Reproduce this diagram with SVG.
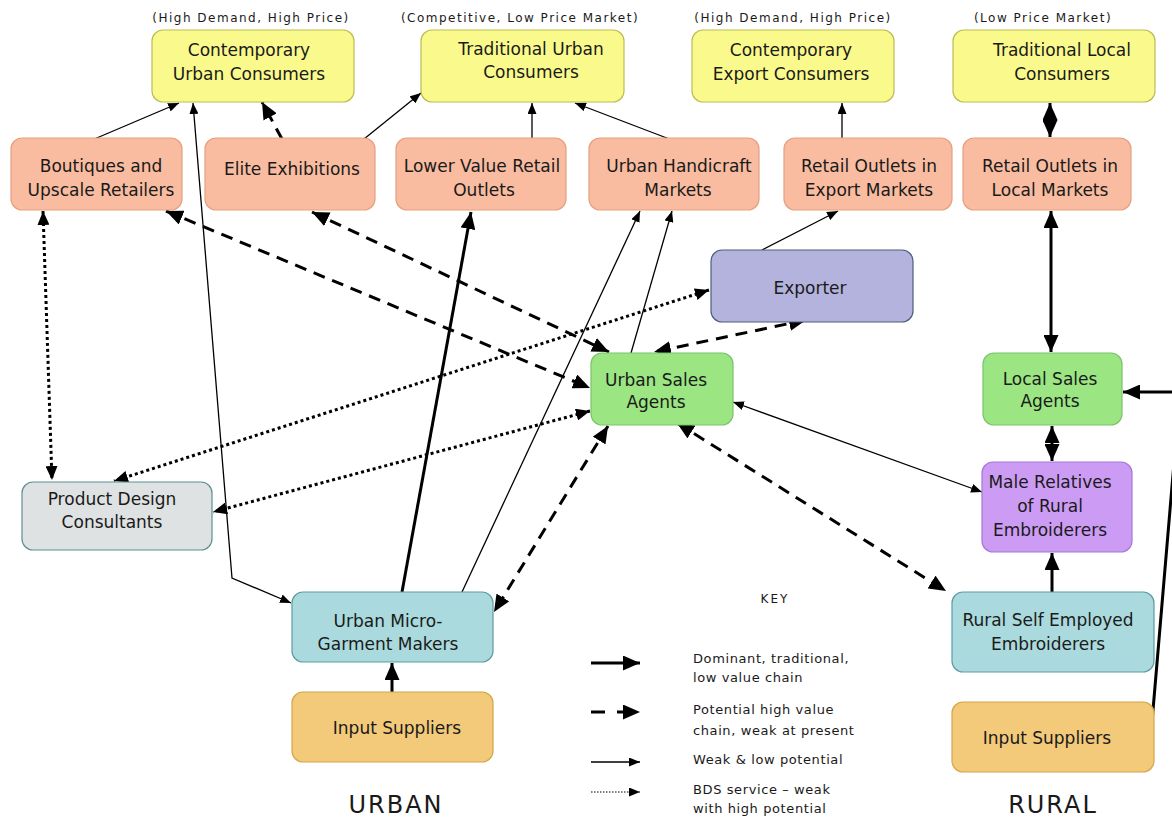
<svg xmlns="http://www.w3.org/2000/svg" width="1172" height="819" viewBox="0 0 1172 819">
<style>
.n rect{stroke-width:1.2}
.n text,.t{font-family:"DejaVu Sans",Verdana,sans-serif;font-size:17px;fill:#1a1a1a;text-anchor:middle}
.cons rect{fill:#fafa8c;stroke:#bcbc55}
.ret rect{fill:#f9bca0;stroke:#e5a080}
.exp rect{fill:#b3b3dd;stroke:#4e5e7a}
.grn rect{fill:#9be682;stroke:#79c46c}
.pur rect{fill:#cc9cf5;stroke:#a478d4}
.gry rect{fill:#dfe2e2;stroke:#5f8f92}
.blu rect{fill:#aadadd;stroke:#5c9ca2}
.org rect{fill:#f3c97a;stroke:#d4a648}
.hd{font-family:"DejaVu Sans",Verdana,sans-serif;font-size:12px;letter-spacing:1.5px;fill:#1a1a1a;text-anchor:middle}
.ky{font-family:"DejaVu Sans",Verdana,sans-serif;font-size:13px;letter-spacing:0.6px;fill:#1a1a1a}
.big{font-family:"DejaVu Sans",Verdana,sans-serif;font-size:24px;letter-spacing:2px;fill:#1a1a1a;text-anchor:middle}
.c path{fill:none;stroke:#000}
.thk{stroke-width:3}
.thn{stroke-width:1.3}
.dsh{stroke-width:3;stroke-dasharray:12 8}
.dot{stroke-width:3;stroke-dasharray:3 3}
</style>
<defs>
<marker id="aS" markerUnits="userSpaceOnUse" markerWidth="11" markerHeight="9" refX="11" refY="4.5" orient="auto-start-reverse" viewBox="0 0 11 9"><path d="M0,0 L11,4.5 L0,9 z" fill="#000"/></marker>
<marker id="aM" markerUnits="userSpaceOnUse" markerWidth="14" markerHeight="12" refX="14" refY="6" orient="auto-start-reverse" viewBox="0 0 14 12"><path d="M0,0 L14,6 L0,12 z" fill="#000"/></marker>
<marker id="aL" markerUnits="userSpaceOnUse" markerWidth="17" markerHeight="15" refX="17" refY="7.5" orient="auto-start-reverse" viewBox="0 0 17 15"><path d="M0,0 L17,7.5 L0,15 z" fill="#000"/></marker>
</defs>
<rect width="1172" height="819" fill="#fff"/>

<g class="hd">
<text x="251" y="22">(High Demand, High Price)</text>
<text x="520" y="22">(Competitive, Low Price Market)</text>
<text x="793" y="22">(High Demand, High Price)</text>
<text x="1043" y="22">(Low Price Market)</text>
</g>

<g id="connectors" class="c">
<path class="thn" d="M92,140 L179,103" marker-end="url(#aS)"/>
<path class="thn" d="M193,103 L232,578 L291,603" marker-start="url(#aS)" marker-end="url(#aS)"/>
<path class="dsh" d="M282,139 L262,102" marker-end="url(#aL)"/>
<path class="thn" d="M364,139 L421,93" marker-end="url(#aS)"/>
<path class="thn" d="M532,139 L532,103" marker-end="url(#aS)"/>
<path class="thn" d="M672,140 L575,103" marker-end="url(#aS)"/>
<path class="thn" d="M842,139 L842,103" marker-end="url(#aS)"/>
<path class="thk" d="M1050,103 L1050,137" marker-start="url(#aL)" marker-end="url(#aL)"/>
<path class="thn" d="M762,250 L838,211" marker-end="url(#aS)"/>
<path class="thk" d="M1051,211 L1051,352" marker-start="url(#aL)" marker-end="url(#aL)"/>
<path class="thk" d="M1052,426 L1052,461" marker-start="url(#aL)" marker-end="url(#aL)"/>
<path class="thk" d="M1052,592 L1052,553" marker-end="url(#aL)"/>
<path class="thk" d="M1152,722 L1180,392 L1123,392" marker-end="url(#aL)"/>
<path class="dsh" d="M166,211 L590,388" marker-start="url(#aL)" marker-end="url(#aL)"/>
<path class="dsh" d="M312,212 L609,352" marker-start="url(#aL)" marker-end="url(#aL)"/>
<path class="thk" d="M402,592 L471,212" marker-end="url(#aL)"/>
<path class="thn" d="M462,592 L640,211" marker-end="url(#aS)"/>
<path class="thn" d="M631,353 L672,211" marker-end="url(#aS)"/>
<path class="dot" d="M43,211 L52,480" marker-start="url(#aM)" marker-end="url(#aM)"/>
<path class="dot" d="M709,290 L114,481" marker-start="url(#aM)" marker-end="url(#aM)"/>
<path class="dot" d="M590,411 L213,512" marker-start="url(#aM)" marker-end="url(#aM)"/>
<path class="dsh" d="M806,320 L654,352" marker-start="url(#aL)" marker-end="url(#aL)"/>
<path class="dsh" d="M608,426 L494,612" marker-start="url(#aL)" marker-end="url(#aL)"/>
<path class="dsh" d="M677,423 L946,591" marker-start="url(#aL)" marker-end="url(#aL)"/>
<path class="thn" d="M733,402 L982,492" marker-start="url(#aS)" marker-end="url(#aS)"/>
<path class="thk" d="M392,692 L392,663" marker-end="url(#aL)"/>
</g>

<g id="n-cuc" class="n cons"><rect x="152" y="30" width="202" height="72" rx="11"/><text x="249" y="56">Contemporary</text><text x="249" y="80">Urban Consumers</text></g>
<g id="n-tuc" class="n cons"><rect x="421" y="30" width="203" height="72" rx="11"/><text x="531" y="55">Traditional Urban</text><text x="531" y="78">Consumers</text></g>
<g id="n-cec" class="n cons"><rect x="692" y="30" width="202" height="72" rx="11"/><text x="791" y="56">Contemporary</text><text x="791" y="80">Export Consumers</text></g>
<g id="n-tlc" class="n cons"><rect x="953" y="30" width="202" height="72" rx="11"/><text x="1062" y="56">Traditional Local</text><text x="1062" y="80">Consumers</text></g>

<g id="n-bou" class="n ret"><rect x="11" y="138" width="171" height="72" rx="11"/><text x="101" y="172">Boutiques and</text><text x="101" y="196">Upscale Retailers</text></g>
<g id="n-eli" class="n ret"><rect x="205" y="138" width="170" height="72" rx="11"/><text x="292" y="175">Elite Exhibitions</text></g>
<g id="n-lvr" class="n ret"><rect x="396" y="138" width="170" height="72" rx="11"/><text x="482" y="172">Lower Value Retail</text><text x="484" y="196">Outlets</text></g>
<g id="n-uhm" class="n ret"><rect x="589" y="138" width="170" height="72" rx="11"/><text x="679" y="172">Urban Handicraft</text><text x="678" y="196">Markets</text></g>
<g id="n-roe" class="n ret"><rect x="784" y="138" width="168" height="72" rx="11"/><text x="869" y="172">Retail Outlets in</text><text x="869" y="196">Export Markets</text></g>
<g id="n-rol" class="n ret"><rect x="963" y="138" width="168" height="72" rx="11"/><text x="1050" y="172">Retail Outlets in</text><text x="1050" y="196">Local Markets</text></g>

<g id="n-exp" class="n exp"><rect x="711" y="250" width="202" height="72" rx="11"/><text x="810" y="294">Exporter</text></g>
<g id="n-usa" class="n grn"><rect x="591" y="353" width="142" height="72" rx="11"/><text x="656" y="386">Urban Sales</text><text x="656" y="408">Agents</text></g>
<g id="n-lsa" class="n grn"><rect x="983" y="353" width="139" height="72" rx="11"/><text x="1050" y="385">Local Sales</text><text x="1050" y="407">Agents</text></g>
<g id="n-mal" class="n pur"><rect x="982" y="462" width="150" height="90" rx="11"/><text x="1050" y="488">Male Relatives</text><text x="1050" y="512">of Rural</text><text x="1050" y="536">Embroiderers</text></g>
<g id="n-pdc" class="n gry"><rect x="22" y="482" width="190" height="68" rx="11"/><text x="112" y="505">Product Design</text><text x="112" y="528">Consultants</text></g>
<g id="n-mic" class="n blu"><rect x="292" y="592" width="201" height="70" rx="11"/><text x="388" y="627">Urban Micro-</text><text x="388" y="650">Garment Makers</text></g>
<g id="n-inu" class="n org"><rect x="292" y="692" width="201" height="70" rx="11"/><text x="397" y="734">Input Suppliers</text></g>
<g id="n-rse" class="n blu"><rect x="952" y="592" width="202" height="80" rx="11"/><text x="1048" y="626">Rural Self Employed</text><text x="1048" y="650">Embroiderers</text></g>
<g id="n-inr" class="n org"><rect x="952" y="702" width="202" height="70" rx="11"/><text x="1047" y="744">Input Suppliers</text></g>

<g id="key">
<text class="hd" x="775" y="603" style="letter-spacing:2px">KEY</text>
<g class="c">
<path class="thk" d="M591,663 L640,663" marker-end="url(#aL)"/>
<path d="M591,712 L640,712" stroke-width="3" stroke-dasharray="14 12" marker-end="url(#aL)"/>
<path d="M591,762 L640,762" stroke-width="1.5" marker-end="url(#aS)"/>
<path d="M591,792 L640,792" stroke-width="1" stroke-dasharray="1.5 1.5" marker-end="url(#aS)"/>
</g>
<text class="ky" x="693" y="663">Dominant, traditional,</text>
<text class="ky" x="693" y="682">low value chain</text>
<text class="ky" x="693" y="714">Potential high value</text>
<text class="ky" x="693" y="735">chain, weak at present</text>
<text class="ky" x="693" y="764">Weak &amp; low potential</text>
<text class="ky" x="693" y="794">BDS service – weak</text>
<text class="ky" x="693" y="813">with high potential</text>
</g>

<text class="big" x="396" y="813">URBAN</text>
<text class="big" x="1053" y="813">RURAL</text>
</svg>
